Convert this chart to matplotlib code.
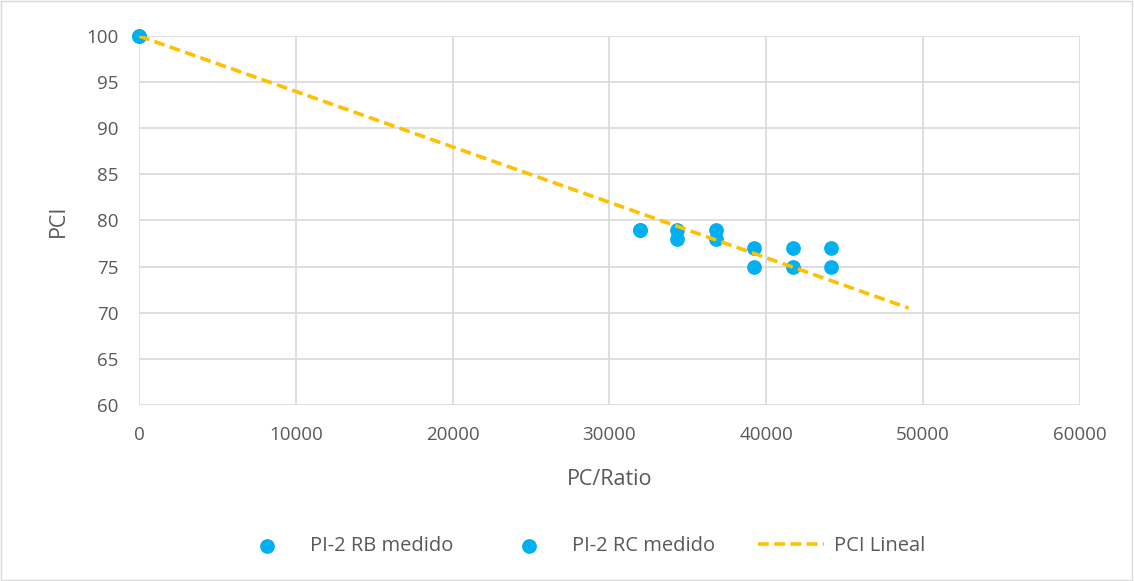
import matplotlib.pyplot as plt
import numpy as np

plt.rcParams['font.family'] = ['Open Sans', 'DejaVu Sans']

# measured points
rb_x = [0, 31950, 34350, 36800, 39250, 41700, 44150]
rb_y = [100, 79, 79, 79, 77, 77, 77]
rc_x = [0, 31950, 34350, 36800, 39250, 41700, 44150]
rc_y = [100, 79, 78, 78, 75, 75, 75]

# linear PCI trend
lin_x = [0, 49100]
lin_y = [100, 70.5]

fig = plt.figure(figsize=(11.34, 5.81), dpi=100)
ax = fig.add_axes([0.1226, 0.303, 0.8294, 0.635])

ax.scatter(rb_x, rb_y, s=92, color='#00B0F0', zorder=3, clip_on=False, label='PI-2 RB medido')
ax.scatter(rc_x, rc_y, s=92, color='#00B0F0', zorder=3, clip_on=False, label='PI-2 RC medido')
ax.plot(lin_x, lin_y, color='#FFC000', lw=2.6, ls=(0, (3, 1.5)), zorder=4, label='PCI Lineal')

ax.set_xlim(0, 60000)
ax.set_ylim(60, 100)
ax.set_xticks(np.arange(0, 60001, 10000))
ax.set_yticks(np.arange(60, 101, 5))
ax.grid(True, color='#d9d9d9', lw=1.2)
ax.set_axisbelow(True)
for s in ax.spines.values():
    s.set_visible(False)
ax.tick_params(axis='x', length=0, labelsize=13.5, colors='#595959', pad=15)
ax.tick_params(axis='y', length=0, labelsize=13.5, colors='#595959', pad=15)
ax.set_xlabel('PC/Ratio', fontsize=15.5, color='#595959', labelpad=18)
ax.set_ylabel('PCI', fontsize=15.5, color='#595959', labelpad=12)

leg = fig.legend(loc='center', bbox_to_anchor=(0.511, 0.06), ncol=3, frameon=False,
                 fontsize=14.5, handlelength=3.3, handletextpad=0.5, columnspacing=2.1,
                 scatterpoints=1)
for t in leg.get_texts():
    t.set_color('#595959')

fig.patches.append(plt.Rectangle((0.001, 0.001), 0.997, 0.997, transform=fig.transFigure,
                                 fill=False, edgecolor='#d9d9d9', lw=1))

fig.savefig('out.png', dpi=100)
